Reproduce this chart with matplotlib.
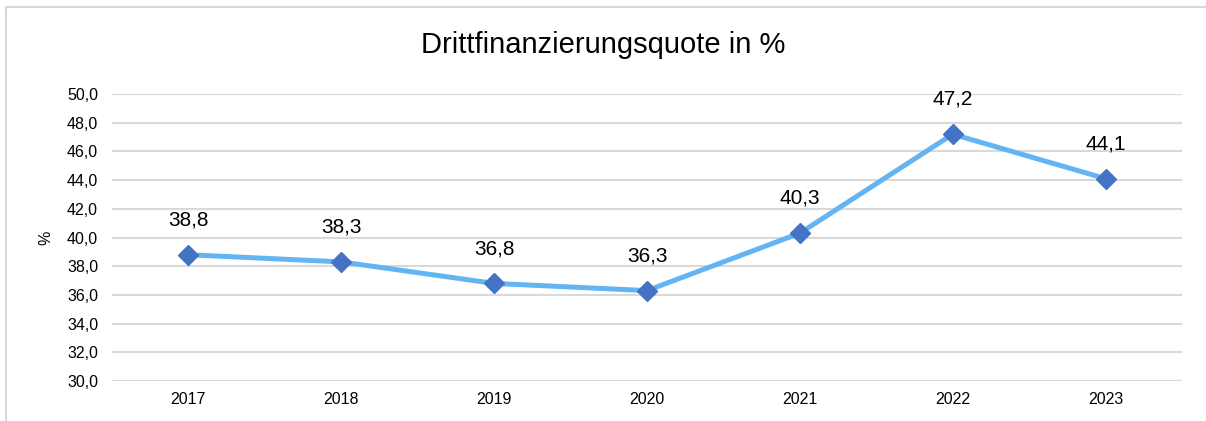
import matplotlib.pyplot as plt
from matplotlib.lines import Line2D
from matplotlib.ticker import FuncFormatter

plt.rcParams['font.family'] = ['Liberation Sans', 'DejaVu Sans']

years = ['2017', '2018', '2019', '2020', '2021', '2022', '2023']
quote = [38.8, 38.3, 36.8, 36.3, 40.3, 47.2, 44.1]

fig = plt.figure(figsize=(12.06, 4.21), dpi=100)
ax = fig.add_axes([112 / 1206, 1 - 381 / 421, 1070 / 1206, 287 / 421])

# chart frame (Excel-style border, only left and top visible)
fx, fy = 6 / 1206, 1 - 7 / 421
fig.lines.append(Line2D([fx, fx], [0, fy], transform=fig.transFigure, color='#d9d9d9', linewidth=1.5))
fig.lines.append(Line2D([fx, 1], [fy, fy], transform=fig.transFigure, color='#d9d9d9', linewidth=1.5))

x = range(len(years))
ax.plot(x, quote, color='#63b4f3', linewidth=3.6, marker='D', markersize=10,
        markerfacecolor='#4472c4', markeredgecolor='#4472c4', zorder=3)

for i, v in enumerate(quote):
    ax.annotate(f'{v:.1f}'.replace('.', ','), (i, v), xytext=(0, 25),
                textcoords='offset points', ha='center', va='center', fontsize=15)

ax.set_xlim(-0.5, len(years) - 0.5)
ax.set_ylim(30, 50)
ax.set_yticks(range(30, 51, 2))
ax.yaxis.set_major_formatter(FuncFormatter(lambda v, p: f'{v:.1f}'.replace('.', ',')))
ax.set_xticks(list(x))
ax.set_xticklabels(years)
ax.tick_params(axis='both', length=0, labelsize=11.5, colors='black')
ax.tick_params(axis='y', pad=10)
ax.tick_params(axis='x', pad=8)
ax.grid(axis='y', color='#d9d9d9', linewidth=1.5)
for s in ax.spines.values():
    s.set_visible(False)

ax.set_ylabel('%', fontsize=11.5, labelpad=10)
fig.text(0.5, 1 - 45 / 421, 'Drittfinanzierungsquote in %', ha='center', va='center', fontsize=21)

fig.savefig('out.png', dpi=100)
